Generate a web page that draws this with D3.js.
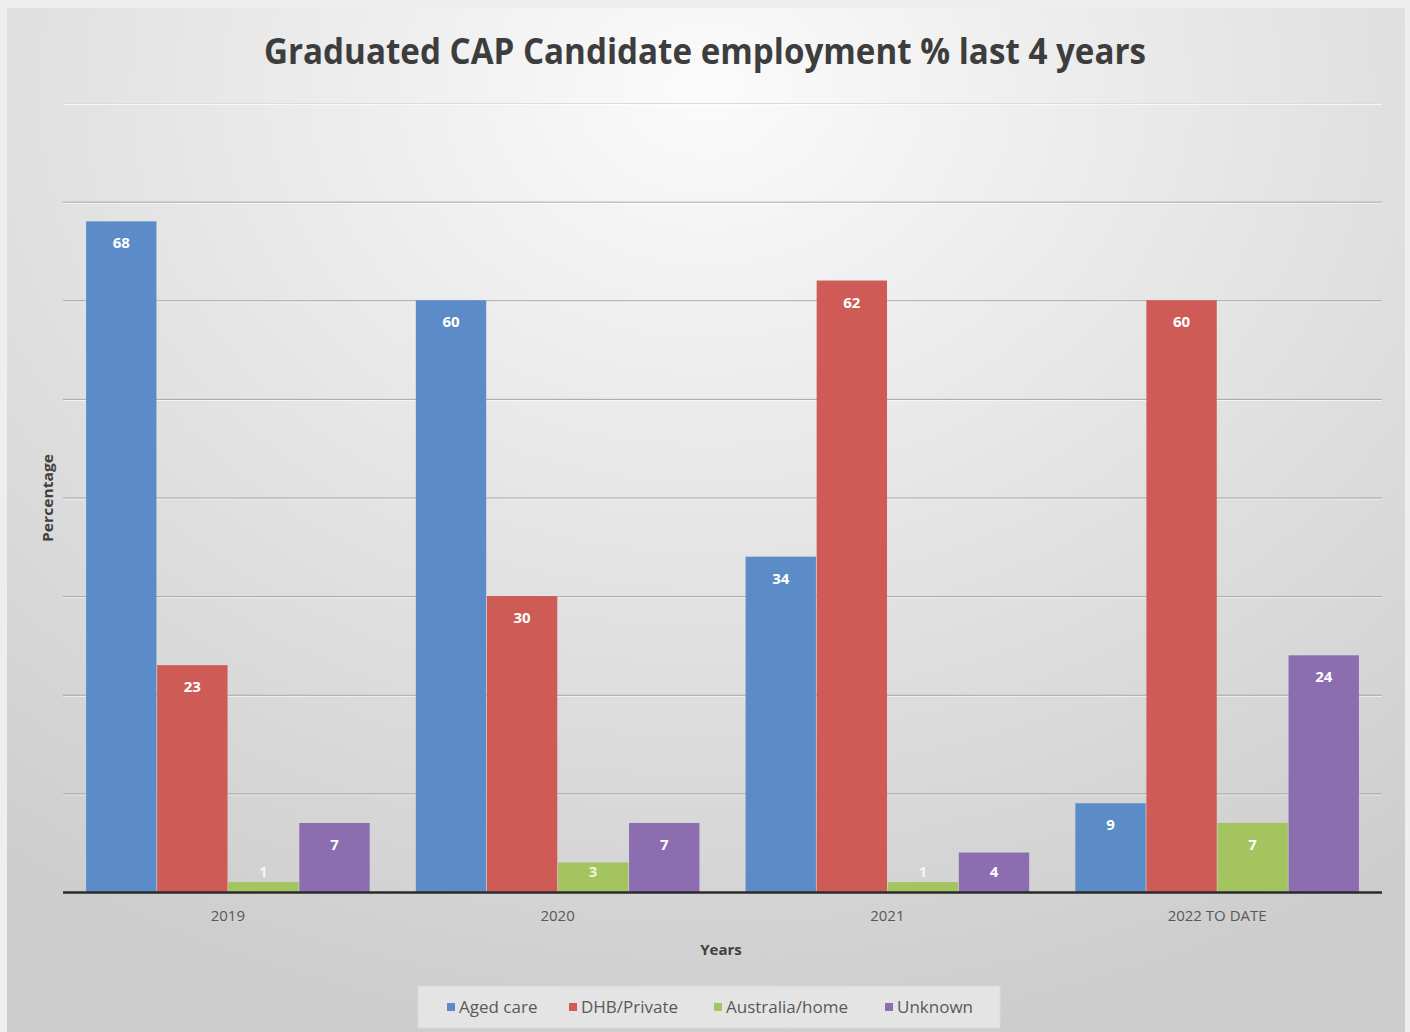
<!DOCTYPE html>
<html>
<head>
<meta charset="utf-8">
<script src="https://cdn.jsdelivr.net/npm/d3@7"></script>
<style>
  body { margin: 0; background: #eeeeee; }
  svg { display: block; }
  .title { font-family: "Open Sans", sans-serif; font-weight: 700; fill: #3d3d3d; }
  .tick-lab { font-family: "Open Sans", sans-serif; font-size: 15px; fill: #595959; }
  .axis-title { font-family: "Open Sans", sans-serif; font-weight: 700; fill: #404040; }
  .bar-lab { font-family: "Open Sans", sans-serif; font-weight: 700; font-size: 15px; fill: #ffffff; }
  .legend-lab { font-family: "Open Sans", sans-serif; font-size: 17px; fill: #595959; }
</style>
</head>
<body>
<div id="chart"></div>
<script>
const years = ['2019', '2020', '2021', '2022 TO DATE']
const series = ['Aged care', 'DHB/Private', 'Australia/home', 'Unknown']
const agedCare = [68, 60, 34, 9]
const dhbPrivate = [23, 30, 62, 60]
const australiaHome = [1, 3, 1, 7]
const unknown = [7, 7, 4, 24]
const colours = ['#5b8cc8', '#cf5b57', '#a3c45f', '#8b6db0']
const yTicks = [10, 20, 30, 40, 50, 60, 70, 80]

const values = [agedCare, dhbPrivate, australiaHome, unknown]

const width = 1410
const height = 1032
const margin = {top: 103, bottom: 140, left: 63, right: 28}

const svg = d3.select('#chart')
  .append('svg')
  .attr('width', width)
  .attr('height', height)

const defs = svg.append('defs')
const grad = defs.append('radialGradient')
  .attr('id', 'bg')
  .attr('cx', '50%').attr('cy', '8%')
  .attr('r', '85%')
  .attr('gradientTransform', 'translate(0.5,0.08) scale(1,1.1) translate(-0.5,-0.08)')
grad.append('stop').attr('offset', '0%').attr('stop-color', '#fbfbfb')
grad.append('stop').attr('offset', '45%').attr('stop-color', '#e6e6e6')
grad.append('stop').attr('offset', '100%').attr('stop-color', '#cdcdcd')

svg.append('rect')
  .attr('x', 0).attr('y', 0).attr('width', width).attr('height', height)
  .attr('fill', '#eeeeee')

svg.append('rect')
  .attr('x', 7).attr('y', 8).attr('width', width - 12).attr('height', height - 8)
  .attr('fill', 'url(#bg)')

const x0 = d3.scaleBand()
  .domain(years)
  .range([margin.left, width - margin.right])
  .paddingInner(0.14)
  .paddingOuter(0.07)

const x1 = d3.scaleBand()
  .domain(series)
  .range([0, x0.bandwidth()])
  .paddingInner(0.01)

const y = d3.scaleLinear()
  .domain([0, 80])
  .range([height - margin.bottom, margin.top])

// gridlines
const grid = svg.append('g')
grid.selectAll('line.hl')
  .data(yTicks)
  .enter()
  .append('line')
  .attr('class', 'hl')
  .attr('x1', margin.left).attr('x2', width - margin.right)
  .attr('y1', d => y(d) + 1.5).attr('y2', d => y(d) + 1.5)
  .attr('stroke', '#ffffff')
  .attr('stroke-opacity', 0.7)
grid.selectAll('line.gl')
  .data(yTicks)
  .enter()
  .append('line')
  .attr('class', 'gl')
  .attr('x1', margin.left).attr('x2', width - margin.right)
  .attr('y1', d => y(d) + 0.5).attr('y2', d => y(d) + 0.5)
  .attr('stroke', d => d === 80 ? '#dcdcdc' : '#a6a6a6')
  .attr('stroke-width', 1)

// bars
const groups = svg.append('g')
  .selectAll('g')
  .data(years)
  .enter()
  .append('g')
  .attr('transform', d => `translate(${x0(d)},0)`)

const barData = (d, yi) => series.map((s, si) => ({series: s, value: values[si][yi], colour: colours[si]}))

groups.selectAll('rect')
  .data((d, i) => barData(d, i))
  .enter()
  .append('rect')
  .attr('x', d => x1(d.series))
  .attr('y', d => y(d.value))
  .attr('width', x1.bandwidth())
  .attr('height', d => y(0) - y(d.value))
  .attr('fill', d => d.colour)

groups.selectAll('text')
  .data((d, i) => barData(d, i))
  .enter()
  .append('text')
  .attr('class', 'bar-lab')
  .attr('text-anchor', 'middle')
  .attr('x', d => x1(d.series) + x1.bandwidth() / 2)
  .attr('y', d => Math.min(y(d.value) + 27, y(0) - 15))
  .attr('fill-opacity', d => d.value < 4 ? 0.8 : 1)
  .text(d => d.value)

// x axis
const xAxis = svg.append('g')
  .attr('transform', `translate(0,${y(0)})`)
  .call(d3.axisBottom(x0).tickSize(0).tickPadding(18))
xAxis.select('.domain').remove()
xAxis.selectAll('text').attr('class', 'tick-lab').attr('font-size', null).attr('font-family', null).attr('fill', null)

svg.append('line')
  .attr('x1', margin.left).attr('x2', width - margin.right)
  .attr('y1', y(0) + 0.5).attr('y2', y(0) + 0.5)
  .attr('stroke', '#2b2b2b')
  .attr('stroke-width', 2.5)

// titles
svg.append('text')
  .attr('class', 'title')
  .attr('x', 705).attr('y', 64)
  .attr('text-anchor', 'middle')
  .attr('font-size', 35)
  .attr('textLength', 882)
  .attr('lengthAdjust', 'spacingAndGlyphs')
  .text('Graduated CAP Candidate employment % last 4 years')

svg.append('text')
  .attr('class', 'axis-title')
  .attr('x', 721).attr('y', 955)
  .attr('text-anchor', 'middle')
  .attr('font-size', 15)
  .text('Years')

svg.append('text')
  .attr('class', 'axis-title')
  .attr('transform', 'translate(53,498) rotate(-90)')
  .attr('text-anchor', 'middle')
  .attr('font-size', 14)
  .attr('textLength', 88)
  .attr('lengthAdjust', 'spacingAndGlyphs')
  .text('Percentage')

// legend
const legend = svg.append('g')
legend.append('rect')
  .attr('x', 418).attr('y', 986).attr('width', 582).attr('height', 42)
  .attr('fill', '#e4e4e4')
  .attr('stroke', '#dadada')

const legendX = [447, 569, 714, 885]
const items = legend.selectAll('g')
  .data(series)
  .enter()
  .append('g')
  .attr('transform', (d, i) => `translate(${legendX[i]},1007)`)
items.append('rect')
  .attr('x', 0).attr('y', -4).attr('width', 8).attr('height', 8)
  .attr('fill', (d, i) => colours[i])
items.append('text')
  .attr('class', 'legend-lab')
  .attr('x', 12).attr('y', 6)
  .text(d => d)
</script>
</body>
</html>
